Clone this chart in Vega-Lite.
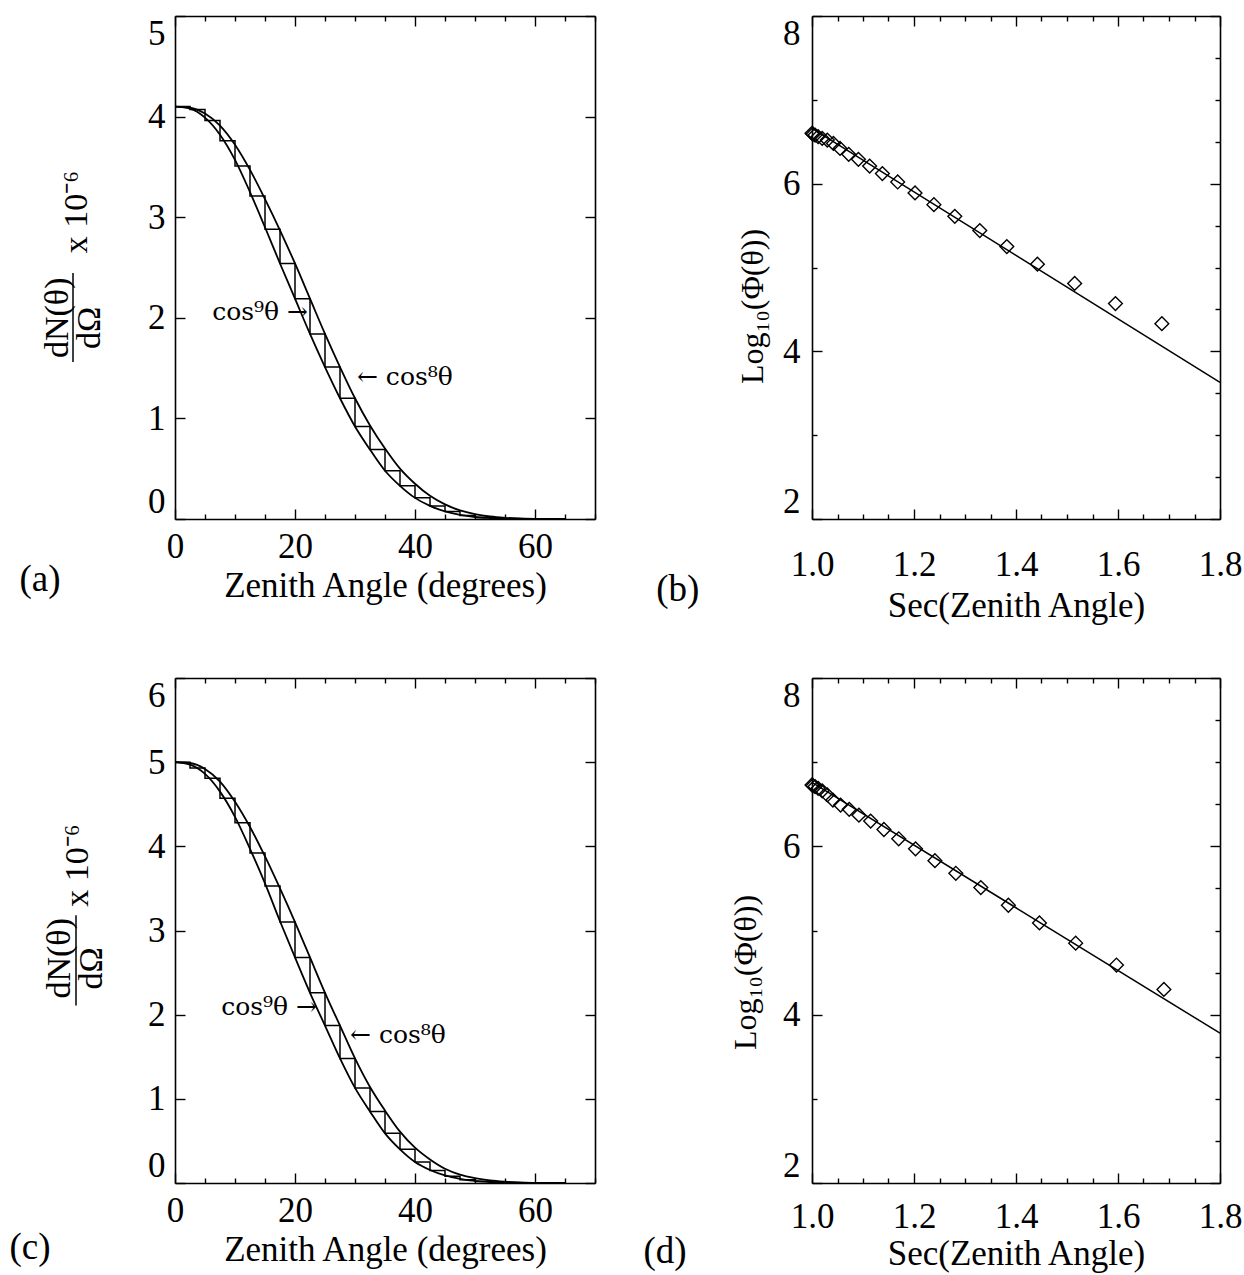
{
  "$schema": "https://vega.github.io/schema/vega-lite/v6.json",
  "autosize": {"type": "none"},
  "padding": {"left": 175, "top": 16, "right": 1069, "bottom": 1259},
  "background": "white",
  "config": {
    "view": {"stroke": null},
    "font": "Liberation Serif",
    "axis": {
      "domainColor": "black", "domainWidth": 1.6,
      "tickColor": "black", "tickWidth": 1.4,
      "labelColor": "black", "titleColor": "black",
      "labelFont": "Liberation Serif", "titleFont": "Liberation Serif",
      "labelFontSize": 35, "titleFontSize": 35, "titleFontWeight": "normal",
      "grid": false, "labelFlush": false, "labelOverlap": false
    }
  },
  "datasets": {
    "a": [
      {"s": "hist", "t": 0, "v": 4.10}, {"s": "hist", "t": 2.5, "v": 4.07}, {"s": "hist", "t": 5, "v": 3.96}, {"s": "hist", "t": 7.5, "v": 3.76},
      {"s": "hist", "t": 10, "v": 3.51}, {"s": "hist", "t": 12.5, "v": 3.21}, {"s": "hist", "t": 15, "v": 2.88}, {"s": "hist", "t": 17.5, "v": 2.54},
      {"s": "hist", "t": 20, "v": 2.19}, {"s": "hist", "t": 22.5, "v": 1.84}, {"s": "hist", "t": 25, "v": 1.51}, {"s": "hist", "t": 27.5, "v": 1.20},
      {"s": "hist", "t": 30, "v": 0.92}, {"s": "hist", "t": 32.5, "v": 0.69}, {"s": "hist", "t": 35, "v": 0.48}, {"s": "hist", "t": 37.5, "v": 0.33},
      {"s": "hist", "t": 40, "v": 0.21}, {"s": "hist", "t": 42.5, "v": 0.13}, {"s": "hist", "t": 45, "v": 0.075}, {"s": "hist", "t": 47.5, "v": 0.035},
      {"s": "hist", "t": 50, "v": 0.015}, {"s": "hist", "t": 52.5, "v": 0.005}, {"s": "hist", "t": 55, "v": 0},
      {"s": "inner", "t": 0, "v": 4.10}, {"s": "inner", "t": 2.5, "v": 4.08}, {"s": "inner", "t": 5, "v": 3.99}, {"s": "inner", "t": 7.5, "v": 3.82},
      {"s": "inner", "t": 10, "v": 3.57}, {"s": "inner", "t": 12.5, "v": 3.25}, {"s": "inner", "t": 15, "v": 2.90}, {"s": "inner", "t": 17.5, "v": 2.54},
      {"s": "inner", "t": 20, "v": 2.19}, {"s": "inner", "t": 22.5, "v": 1.84}, {"s": "inner", "t": 25, "v": 1.51}, {"s": "inner", "t": 27.5, "v": 1.20},
      {"s": "inner", "t": 30, "v": 0.92}, {"s": "inner", "t": 32.5, "v": 0.69}, {"s": "inner", "t": 35, "v": 0.48}, {"s": "inner", "t": 37.5, "v": 0.33},
      {"s": "inner", "t": 40, "v": 0.21}, {"s": "inner", "t": 42.5, "v": 0.13}, {"s": "inner", "t": 45, "v": 0.075}, {"s": "inner", "t": 47.5, "v": 0.04},
      {"s": "inner", "t": 50, "v": 0.02}, {"s": "inner", "t": 52.5, "v": 0.01}, {"s": "inner", "t": 55, "v": 0.004}, {"s": "inner", "t": 60, "v": 0},
      {"s": "inner", "t": 65, "v": 0},
      {"s": "outer", "t": 0, "v": 4.10}, {"s": "outer", "t": 2.5, "v": 4.09}, {"s": "outer", "t": 5, "v": 4.03}, {"s": "outer", "t": 7.5, "v": 3.91},
      {"s": "outer", "t": 10, "v": 3.72}, {"s": "outer", "t": 12.5, "v": 3.47}, {"s": "outer", "t": 15, "v": 3.18}, {"s": "outer", "t": 17.5, "v": 2.87},
      {"s": "outer", "t": 20, "v": 2.54}, {"s": "outer", "t": 22.5, "v": 2.19}, {"s": "outer", "t": 25, "v": 1.84}, {"s": "outer", "t": 27.5, "v": 1.51},
      {"s": "outer", "t": 30, "v": 1.20}, {"s": "outer", "t": 32.5, "v": 0.93}, {"s": "outer", "t": 35, "v": 0.70}, {"s": "outer", "t": 37.5, "v": 0.50},
      {"s": "outer", "t": 40, "v": 0.35}, {"s": "outer", "t": 42.5, "v": 0.23}, {"s": "outer", "t": 45, "v": 0.145}, {"s": "outer", "t": 47.5, "v": 0.085},
      {"s": "outer", "t": 50, "v": 0.048}, {"s": "outer", "t": 52.5, "v": 0.025}, {"s": "outer", "t": 55, "v": 0.012}, {"s": "outer", "t": 57.5, "v": 0.005},
      {"s": "outer", "t": 60, "v": 0.001}, {"s": "outer", "t": 65, "v": 0}
    ],
    "c": [
      {"s": "hist", "t": 0, "v": 5.00}, {"s": "hist", "t": 2.5, "v": 4.93}, {"s": "hist", "t": 5, "v": 4.81}, {"s": "hist", "t": 7.5, "v": 4.57},
      {"s": "hist", "t": 10, "v": 4.28}, {"s": "hist", "t": 12.5, "v": 3.92}, {"s": "hist", "t": 15, "v": 3.53}, {"s": "hist", "t": 17.5, "v": 3.10},
      {"s": "hist", "t": 20, "v": 2.68}, {"s": "hist", "t": 22.5, "v": 2.26}, {"s": "hist", "t": 25, "v": 1.87}, {"s": "hist", "t": 27.5, "v": 1.48},
      {"s": "hist", "t": 30, "v": 1.13}, {"s": "hist", "t": 32.5, "v": 0.85}, {"s": "hist", "t": 35, "v": 0.59}, {"s": "hist", "t": 37.5, "v": 0.40},
      {"s": "hist", "t": 40, "v": 0.25}, {"s": "hist", "t": 42.5, "v": 0.15}, {"s": "hist", "t": 45, "v": 0.08}, {"s": "hist", "t": 47.5, "v": 0.04},
      {"s": "hist", "t": 50, "v": 0.018}, {"s": "hist", "t": 52.5, "v": 0.006}, {"s": "hist", "t": 55, "v": 0},
      {"s": "inner", "t": 0, "v": 5.00}, {"s": "inner", "t": 2.5, "v": 4.97}, {"s": "inner", "t": 5, "v": 4.86}, {"s": "inner", "t": 7.5, "v": 4.65},
      {"s": "inner", "t": 10, "v": 4.35}, {"s": "inner", "t": 12.5, "v": 3.97}, {"s": "inner", "t": 15, "v": 3.56}, {"s": "inner", "t": 17.5, "v": 3.11},
      {"s": "inner", "t": 20, "v": 2.68}, {"s": "inner", "t": 22.5, "v": 2.26}, {"s": "inner", "t": 25, "v": 1.87}, {"s": "inner", "t": 27.5, "v": 1.48},
      {"s": "inner", "t": 30, "v": 1.13}, {"s": "inner", "t": 32.5, "v": 0.85}, {"s": "inner", "t": 35, "v": 0.59}, {"s": "inner", "t": 37.5, "v": 0.40},
      {"s": "inner", "t": 40, "v": 0.25}, {"s": "inner", "t": 42.5, "v": 0.155}, {"s": "inner", "t": 45, "v": 0.09}, {"s": "inner", "t": 47.5, "v": 0.05},
      {"s": "inner", "t": 50, "v": 0.025}, {"s": "inner", "t": 52.5, "v": 0.012}, {"s": "inner", "t": 55, "v": 0.005}, {"s": "inner", "t": 60, "v": 0},
      {"s": "inner", "t": 65, "v": 0},
      {"s": "outer", "t": 0, "v": 5.00}, {"s": "outer", "t": 2.5, "v": 4.99}, {"s": "outer", "t": 5, "v": 4.92}, {"s": "outer", "t": 7.5, "v": 4.77},
      {"s": "outer", "t": 10, "v": 4.53}, {"s": "outer", "t": 12.5, "v": 4.23}, {"s": "outer", "t": 15, "v": 3.88}, {"s": "outer", "t": 17.5, "v": 3.50},
      {"s": "outer", "t": 20, "v": 3.10}, {"s": "outer", "t": 22.5, "v": 2.68}, {"s": "outer", "t": 25, "v": 2.26}, {"s": "outer", "t": 27.5, "v": 1.87},
      {"s": "outer", "t": 30, "v": 1.48}, {"s": "outer", "t": 32.5, "v": 1.14}, {"s": "outer", "t": 35, "v": 0.86}, {"s": "outer", "t": 37.5, "v": 0.61},
      {"s": "outer", "t": 40, "v": 0.42}, {"s": "outer", "t": 42.5, "v": 0.28}, {"s": "outer", "t": 45, "v": 0.17}, {"s": "outer", "t": 47.5, "v": 0.10},
      {"s": "outer", "t": 50, "v": 0.058}, {"s": "outer", "t": 52.5, "v": 0.03}, {"s": "outer", "t": 55, "v": 0.015}, {"s": "outer", "t": 57.5, "v": 0.006},
      {"s": "outer", "t": 60, "v": 0.001}, {"s": "outer", "t": 65, "v": 0}
    ],
    "b_pts": [
      {"s": 1.000, "L": 6.60}, {"s": 1.002, "L": 6.59}, {"s": 1.006, "L": 6.58}, {"s": 1.012, "L": 6.56}, {"s": 1.020, "L": 6.54},
      {"s": 1.030, "L": 6.52}, {"s": 1.042, "L": 6.48}, {"s": 1.055, "L": 6.42}, {"s": 1.072, "L": 6.35}, {"s": 1.091, "L": 6.29},
      {"s": 1.113, "L": 6.21}, {"s": 1.138, "L": 6.12}, {"s": 1.168, "L": 6.02}, {"s": 1.202, "L": 5.89}, {"s": 1.239, "L": 5.75},
      {"s": 1.280, "L": 5.61}, {"s": 1.329, "L": 5.44}, {"s": 1.382, "L": 5.25}, {"s": 1.442, "L": 5.04}, {"s": 1.515, "L": 4.81},
      {"s": 1.595, "L": 4.57}, {"s": 1.686, "L": 4.33}
    ],
    "b_line": [{"s": 1.0, "L": 6.66}, {"s": 1.8, "L": 3.63}],
    "d_pts": [
      {"s": 1.000, "L": 6.73}, {"s": 1.002, "L": 6.72}, {"s": 1.006, "L": 6.71}, {"s": 1.012, "L": 6.69}, {"s": 1.020, "L": 6.66},
      {"s": 1.030, "L": 6.61}, {"s": 1.041, "L": 6.55}, {"s": 1.056, "L": 6.49}, {"s": 1.073, "L": 6.44}, {"s": 1.092, "L": 6.37},
      {"s": 1.115, "L": 6.30}, {"s": 1.141, "L": 6.20}, {"s": 1.170, "L": 6.09}, {"s": 1.203, "L": 5.97}, {"s": 1.241, "L": 5.83},
      {"s": 1.282, "L": 5.68}, {"s": 1.331, "L": 5.51}, {"s": 1.385, "L": 5.30}, {"s": 1.446, "L": 5.09}, {"s": 1.517, "L": 4.85},
      {"s": 1.597, "L": 4.59}, {"s": 1.690, "L": 4.30}
    ],
    "d_line": [{"s": 1.0, "L": 6.76}, {"s": 1.8, "L": 3.78}],
    "a_r": [{"x": 22.17, "y": 2.06, "label": "cos⁹θ →"}],
    "a_l": [{"x": 30.33, "y": 1.41, "label": "← cos⁸θ"}],
    "a_tag": [{"x": -22.5, "y": -0.61, "label": "(a)"}],
    "a_yt": [{"x": -19.5, "y": 2.0, "label": "dN(θ)"}, {"x": -14.17, "y": 1.90, "label": "dΩ"}, {"x": -16.33, "y": 3.05, "label": "x 10⁻⁶"}],
    "a_bar": [{"x": -17.0, "y": 2.445, "y2": 1.56}],
    "c_r": [{"x": 23.67, "y": 2.09, "label": "cos⁹θ →"}],
    "c_l": [{"x": 29.17, "y": 1.76, "label": "← cos⁸θ"}],
    "c_tag": [{"x": -24.17, "y": -0.77, "label": "(c)"}],
    "c_yt": [{"x": -19.17, "y": 2.67, "label": "dN(θ)"}, {"x": -13.83, "y": 2.55, "label": "dΩ"}, {"x": -16.17, "y": 3.77, "label": "x 10⁻⁶"}],
    "c_bar": [{"x": -16.5, "y": 3.18, "y2": 2.11}],
    "b_tag": [{"s": 0.737, "L": 1.15, "label": "(b)"}],
    "d_tag": [{"s": 0.712, "L": 1.18, "label": "(d)"}]
  },
  "columns": 2,
  "spacing": {"row": 159, "column": 217},
  "bounds": "flush",
  "concat": [
    {
      "width": 420, "height": 503,
      "resolve": {"axis": {"x": "independent", "y": "independent"}},
      "layer": [
        {
          "data": {"name": "a"}, "transform": [{"filter": "datum.s === 'hist'"}],
          "mark": {"type": "line", "interpolate": "step-after", "color": "black", "strokeWidth": 1.5},
          "encoding": {
            "x": {"field": "t", "type": "quantitative", "scale": {"domain": [0, 70], "nice": false},
                  "axis": {"orient": "bottom", "values": [0,5,10,15,20,25,30,35,40,45,50,55,60,65,70],
                           "tickSize": {"condition": {"test": "datum.value % 20 === 0", "value": -10}, "value": -5},
                           "labelExpr": "datum.value % 20 === 0 && datum.value < 70 ? datum.label : ''",
                           "labelPadding": 20, "title": "Zenith Angle (degrees)", "titleY": 66, "titleBaseline": "middle"}},
            "y": {"field": "v", "type": "quantitative", "scale": {"domain": [0, 5], "nice": false},
                  "axis": {"orient": "left", "values": [0,1,2,3,4,5], "tickSize": -10, "labelPadding": 20, "title": null,
                           "labelBaseline": {"condition": [{"test": "datum.value === 5", "value": "top"}, {"test": "datum.value === 0", "value": "bottom"}], "value": "middle"}}}
          }
        },
        {
          "data": {"name": "a"}, "transform": [{"filter": "datum.s !== 'hist'"}],
          "mark": {"type": "line", "interpolate": "monotone", "color": "black", "strokeWidth": 1.8},
          "encoding": {
            "x": {"field": "t", "type": "quantitative", "scale": {"domain": [0, 70], "nice": false},
                  "axis": {"orient": "top", "values": [0,5,10,15,20,25,30,35,40,45,50,55,60,65,70],
                           "tickSize": {"condition": {"test": "datum.value % 20 === 0", "value": -10}, "value": -5},
                           "labels": false, "title": null}},
            "y": {"field": "v", "type": "quantitative", "scale": {"domain": [0, 5], "nice": false},
                  "axis": {"orient": "right", "values": [0,1,2,3,4,5], "tickSize": -10, "labels": false, "title": null}},
            "detail": {"field": "s"}
          }
        },
        {
          "data": {"name": "a_r"},
          "mark": {"type": "text", "align": "right", "baseline": "middle", "font": "DejaVu Serif", "fontSize": 25, "color": "black"},
          "encoding": {
            "x": {"field": "x", "type": "quantitative", "scale": {"domain": [0, 70], "nice": false}, "axis": null},
            "y": {"field": "y", "type": "quantitative", "scale": {"domain": [0, 5], "nice": false}, "axis": null},
            "text": {"field": "label"}
          }
        },
        {
          "data": {"name": "a_l"},
          "mark": {"type": "text", "align": "left", "baseline": "middle", "font": "DejaVu Serif", "fontSize": 25, "color": "black"},
          "encoding": {
            "x": {"field": "x", "type": "quantitative", "scale": {"domain": [0, 70], "nice": false}, "axis": null},
            "y": {"field": "y", "type": "quantitative", "scale": {"domain": [0, 5], "nice": false}, "axis": null},
            "text": {"field": "label"}
          }
        },
        {
          "data": {"name": "a_tag"},
          "mark": {"type": "text", "align": "center", "baseline": "middle", "font": "Liberation Serif", "fontSize": 37, "color": "black"},
          "encoding": {
            "x": {"field": "x", "type": "quantitative", "scale": {"domain": [0, 70], "nice": false}, "axis": null},
            "y": {"field": "y", "type": "quantitative", "scale": {"domain": [0, 5], "nice": false}, "axis": null},
            "text": {"field": "label"}
          }
        },
        {
          "data": {"name": "a_yt"},
          "mark": {"type": "text", "align": "center", "baseline": "middle", "angle": 270, "font": "Liberation Serif", "fontSize": 34, "color": "black"},
          "encoding": {
            "x": {"field": "x", "type": "quantitative", "scale": {"domain": [0, 70], "nice": false}, "axis": null},
            "y": {"field": "y", "type": "quantitative", "scale": {"domain": [0, 5], "nice": false}, "axis": null},
            "text": {"field": "label"}
          }
        },
        {
          "data": {"name": "a_bar"},
          "mark": {"type": "rule", "color": "black", "strokeWidth": 1.5},
          "encoding": {
            "x": {"field": "x", "type": "quantitative", "scale": {"domain": [0, 70], "nice": false}, "axis": null},
            "y": {"field": "y", "type": "quantitative", "scale": {"domain": [0, 5], "nice": false}, "axis": null},
            "y2": {"field": "y2"}
          }
        }
      ]
    },
    {
      "width": 408, "height": 503,
      "resolve": {"axis": {"x": "independent", "y": "independent"}},
      "layer": [
        {
          "data": {"name": "b_pts"},
          "mark": {"type": "point", "shape": "diamond", "filled": false, "color": "black", "strokeWidth": 1.4, "size": 190, "opacity": 1},
          "encoding": {
            "x": {"field": "s", "type": "quantitative", "scale": {"domain": [1, 1.8], "nice": false, "zero": false},
                  "axis": {"orient": "bottom", "values": [1,1.05,1.1,1.15,1.2,1.25,1.3,1.35,1.4,1.45,1.5,1.55,1.6,1.65,1.7,1.75,1.8], "format": ".1f",
                           "tickSize": {"condition": {"test": "abs(datum.value*5 - round(datum.value*5)) < 0.001", "value": -10}, "value": -5},
                           "labelExpr": "abs(datum.value*5 - round(datum.value*5)) < 0.001 ? datum.label : ''",
                           "labelPadding": 38, "title": "Sec(Zenith Angle)", "titleY": 86, "titleBaseline": "middle"}},
            "y": {"field": "L", "type": "quantitative", "scale": {"domain": [2, 8], "nice": false, "zero": false},
                  "axis": {"orient": "left", "values": [2,2.5,3,3.5,4,4.5,5,5.5,6,6.5,7,7.5,8], "format": "d",
                           "tickSize": {"condition": {"test": "datum.value % 2 === 0", "value": -10}, "value": -5},
                           "labelExpr": "datum.value % 2 === 0 ? datum.label : ''",
                           "labelBaseline": {"condition": [{"test": "datum.value === 8", "value": "top"}, {"test": "datum.value === 2", "value": "bottom"}], "value": "middle"},
                           "labelPadding": 22, "title": "Log₁₀(Φ(θ))", "titleFontSize": 32, "titleX": -60, "titleY": 290, "titleBaseline": "middle"}}
          }
        },
        {
          "data": {"name": "b_line"},
          "mark": {"type": "line", "color": "black", "strokeWidth": 1.5},
          "encoding": {
            "x": {"field": "s", "type": "quantitative", "scale": {"domain": [1, 1.8], "nice": false, "zero": false},
                  "axis": {"orient": "top", "values": [1,1.05,1.1,1.15,1.2,1.25,1.3,1.35,1.4,1.45,1.5,1.55,1.6,1.65,1.7,1.75,1.8],
                           "tickSize": {"condition": {"test": "abs(datum.value*5 - round(datum.value*5)) < 0.001", "value": -10}, "value": -5},
                           "labels": false, "title": null}},
            "y": {"field": "L", "type": "quantitative", "scale": {"domain": [2, 8], "nice": false, "zero": false},
                  "axis": {"orient": "right", "values": [2,2.5,3,3.5,4,4.5,5,5.5,6,6.5,7,7.5,8],
                           "tickSize": {"condition": {"test": "datum.value % 2 === 0", "value": -10}, "value": -5},
                           "labels": false, "title": null}}
          }
        },
        {
          "data": {"name": "b_tag"},
          "mark": {"type": "text", "align": "center", "baseline": "middle", "font": "Liberation Serif", "fontSize": 37, "color": "black"},
          "encoding": {
            "x": {"field": "s", "type": "quantitative", "scale": {"domain": [1, 1.8], "nice": false, "zero": false}, "axis": null},
            "y": {"field": "L", "type": "quantitative", "scale": {"domain": [2, 8], "nice": false, "zero": false}, "axis": null},
            "text": {"field": "label"}
          }
        }
      ]
    },
    {
      "width": 420, "height": 505,
      "resolve": {"axis": {"x": "independent", "y": "independent"}},
      "layer": [
        {
          "data": {"name": "c"}, "transform": [{"filter": "datum.s === 'hist'"}],
          "mark": {"type": "line", "interpolate": "step-after", "color": "black", "strokeWidth": 1.5},
          "encoding": {
            "x": {"field": "t", "type": "quantitative", "scale": {"domain": [0, 70], "nice": false},
                  "axis": {"orient": "bottom", "values": [0,5,10,15,20,25,30,35,40,45,50,55,60,65,70],
                           "tickSize": {"condition": {"test": "datum.value % 20 === 0", "value": -10}, "value": -5},
                           "labelExpr": "datum.value % 20 === 0 && datum.value < 70 ? datum.label : ''",
                           "labelPadding": 20, "title": "Zenith Angle (degrees)", "titleY": 66, "titleBaseline": "middle"}},
            "y": {"field": "v", "type": "quantitative", "scale": {"domain": [0, 6], "nice": false},
                  "axis": {"orient": "left", "values": [0,1,2,3,4,5,6], "tickSize": -10, "labelPadding": 20, "title": null,
                           "labelBaseline": {"condition": [{"test": "datum.value === 6", "value": "top"}, {"test": "datum.value === 0", "value": "bottom"}], "value": "middle"}}}
          }
        },
        {
          "data": {"name": "c"}, "transform": [{"filter": "datum.s !== 'hist'"}],
          "mark": {"type": "line", "interpolate": "monotone", "color": "black", "strokeWidth": 1.8},
          "encoding": {
            "x": {"field": "t", "type": "quantitative", "scale": {"domain": [0, 70], "nice": false},
                  "axis": {"orient": "top", "values": [0,5,10,15,20,25,30,35,40,45,50,55,60,65,70],
                           "tickSize": {"condition": {"test": "datum.value % 20 === 0", "value": -10}, "value": -5},
                           "labels": false, "title": null}},
            "y": {"field": "v", "type": "quantitative", "scale": {"domain": [0, 6], "nice": false},
                  "axis": {"orient": "right", "values": [0,1,2,3,4,5,6], "tickSize": -10, "labels": false, "title": null}},
            "detail": {"field": "s"}
          }
        },
        {
          "data": {"name": "c_r"},
          "mark": {"type": "text", "align": "right", "baseline": "middle", "font": "DejaVu Serif", "fontSize": 25, "color": "black"},
          "encoding": {
            "x": {"field": "x", "type": "quantitative", "scale": {"domain": [0, 70], "nice": false}, "axis": null},
            "y": {"field": "y", "type": "quantitative", "scale": {"domain": [0, 6], "nice": false}, "axis": null},
            "text": {"field": "label"}
          }
        },
        {
          "data": {"name": "c_l"},
          "mark": {"type": "text", "align": "left", "baseline": "middle", "font": "DejaVu Serif", "fontSize": 25, "color": "black"},
          "encoding": {
            "x": {"field": "x", "type": "quantitative", "scale": {"domain": [0, 70], "nice": false}, "axis": null},
            "y": {"field": "y", "type": "quantitative", "scale": {"domain": [0, 6], "nice": false}, "axis": null},
            "text": {"field": "label"}
          }
        },
        {
          "data": {"name": "c_tag"},
          "mark": {"type": "text", "align": "center", "baseline": "middle", "font": "Liberation Serif", "fontSize": 37, "color": "black"},
          "encoding": {
            "x": {"field": "x", "type": "quantitative", "scale": {"domain": [0, 70], "nice": false}, "axis": null},
            "y": {"field": "y", "type": "quantitative", "scale": {"domain": [0, 6], "nice": false}, "axis": null},
            "text": {"field": "label"}
          }
        },
        {
          "data": {"name": "c_yt"},
          "mark": {"type": "text", "align": "center", "baseline": "middle", "angle": 270, "font": "Liberation Serif", "fontSize": 34, "color": "black"},
          "encoding": {
            "x": {"field": "x", "type": "quantitative", "scale": {"domain": [0, 70], "nice": false}, "axis": null},
            "y": {"field": "y", "type": "quantitative", "scale": {"domain": [0, 6], "nice": false}, "axis": null},
            "text": {"field": "label"}
          }
        },
        {
          "data": {"name": "c_bar"},
          "mark": {"type": "rule", "color": "black", "strokeWidth": 1.5},
          "encoding": {
            "x": {"field": "x", "type": "quantitative", "scale": {"domain": [0, 70], "nice": false}, "axis": null},
            "y": {"field": "y", "type": "quantitative", "scale": {"domain": [0, 6], "nice": false}, "axis": null},
            "y2": {"field": "y2"}
          }
        }
      ]
    },
    {
      "width": 408, "height": 505,
      "resolve": {"axis": {"x": "independent", "y": "independent"}},
      "layer": [
        {
          "data": {"name": "d_pts"},
          "mark": {"type": "point", "shape": "diamond", "filled": false, "color": "black", "strokeWidth": 1.4, "size": 190, "opacity": 1},
          "encoding": {
            "x": {"field": "s", "type": "quantitative", "scale": {"domain": [1, 1.8], "nice": false, "zero": false},
                  "axis": {"orient": "bottom", "values": [1,1.05,1.1,1.15,1.2,1.25,1.3,1.35,1.4,1.45,1.5,1.55,1.6,1.65,1.7,1.75,1.8], "format": ".1f",
                           "tickSize": {"condition": {"test": "abs(datum.value*5 - round(datum.value*5)) < 0.001", "value": -10}, "value": -5},
                           "labelExpr": "abs(datum.value*5 - round(datum.value*5)) < 0.001 ? datum.label : ''",
                           "labelPadding": 26, "title": "Sec(Zenith Angle)", "titleY": 70, "titleBaseline": "middle"}},
            "y": {"field": "L", "type": "quantitative", "scale": {"domain": [2, 8], "nice": false, "zero": false},
                  "axis": {"orient": "left", "values": [2,2.5,3,3.5,4,4.5,5,5.5,6,6.5,7,7.5,8], "format": "d",
                           "tickSize": {"condition": {"test": "datum.value % 2 === 0", "value": -10}, "value": -5},
                           "labelExpr": "datum.value % 2 === 0 ? datum.label : ''",
                           "labelBaseline": {"condition": [{"test": "datum.value === 8", "value": "top"}, {"test": "datum.value === 2", "value": "bottom"}], "value": "middle"},
                           "labelPadding": 22, "title": "Log₁₀(Φ(θ))", "titleFontSize": 32, "titleX": -67, "titleY": 294, "titleBaseline": "middle"}}
          }
        },
        {
          "data": {"name": "d_line"},
          "mark": {"type": "line", "color": "black", "strokeWidth": 1.5},
          "encoding": {
            "x": {"field": "s", "type": "quantitative", "scale": {"domain": [1, 1.8], "nice": false, "zero": false},
                  "axis": {"orient": "top", "values": [1,1.05,1.1,1.15,1.2,1.25,1.3,1.35,1.4,1.45,1.5,1.55,1.6,1.65,1.7,1.75,1.8],
                           "tickSize": {"condition": {"test": "abs(datum.value*5 - round(datum.value*5)) < 0.001", "value": -10}, "value": -5},
                           "labels": false, "title": null}},
            "y": {"field": "L", "type": "quantitative", "scale": {"domain": [2, 8], "nice": false, "zero": false},
                  "axis": {"orient": "right", "values": [2,2.5,3,3.5,4,4.5,5,5.5,6,6.5,7,7.5,8],
                           "tickSize": {"condition": {"test": "datum.value % 2 === 0", "value": -10}, "value": -5},
                           "labels": false, "title": null}}
          }
        },
        {
          "data": {"name": "d_tag"},
          "mark": {"type": "text", "align": "center", "baseline": "middle", "font": "Liberation Serif", "fontSize": 37, "color": "black"},
          "encoding": {
            "x": {"field": "s", "type": "quantitative", "scale": {"domain": [1, 1.8], "nice": false, "zero": false}, "axis": null},
            "y": {"field": "L", "type": "quantitative", "scale": {"domain": [2, 8], "nice": false, "zero": false}, "axis": null},
            "text": {"field": "label"}
          }
        }
      ]
    }
  ]
}
